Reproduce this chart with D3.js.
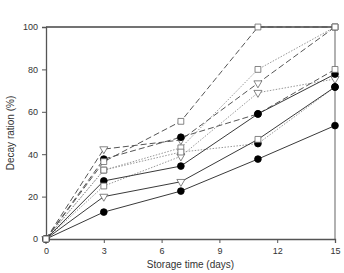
<!DOCTYPE html>
<html>
<head>
<meta charset="utf-8">
<script src="https://cdnjs.cloudflare.com/ajax/libs/d3/7.8.5/d3.min.js"></script>
<style>
  body { margin: 0; background: #fff; }
  text { font-family: "Liberation Sans", Arial, sans-serif; fill: #333; }
</style>
</head>
<body>
<script>
  // storage days on the x axis
  var days = [0, 3, 7, 11, 15];

  // decay ration (%) per treatment
  var seriesA = [0, 36.5, 55.5, 100, 100];
  var seriesB = [0, 42.4, 46.7, 73.5, 100];
  var seriesC = [0, 37.7, 48, 59, 80];
  var seriesD = [0, 32.5, 43, 80, 100];
  var seriesE = [0, 25, 39, 69, 75.5];
  var seriesF = [0, 27.4, 34.4, 59, 77.8];
  var seriesG = [0, 32.5, 41, 45, 71.7];
  var seriesH = [0, 20, 27, 47, 71.7];
  var seriesI = [0, 12.7, 22.6, 37.7, 53.5];

  var xTicks = [0, 3, 6, 9, 12, 15];
  var yTicks = [0, 20, 40, 60, 80, 100];

  // line style and marker shape per point (S square, T triangle, C circle)
  var series = [
    { values: seriesD, line: "dotted", marks: "SSSSS" },
    { values: seriesE, line: "dotted", marks: "SSTTT" },
    { values: seriesG, line: "dotted", marks: "SSSCC" },
    { values: seriesA, line: "dashed", marks: "SSSSS" },
    { values: seriesB, line: "dashed", marks: "TTTTS" },
    { values: seriesC, line: "dashed", marks: "CCCCS" },
    { values: seriesF, line: "solid",  marks: "CCCCC" },
    { values: seriesH, line: "solid",  marks: "TTTSC" },
    { values: seriesI, line: "solid",  marks: "CCCCC" }
  ];

  var width = 344, height = 273;
  var margin = { left: 46, right: 9, top: 27, bottom: 34 };

  var svg = d3.select("body").append("svg")
      .attr("width", width)
      .attr("height", height);

  var x = d3.scaleLinear().domain([0, 15]).range([margin.left, width - margin.right]);
  var y = d3.scaleLinear().domain([0, 100]).range([height - margin.bottom, margin.top]);

  // frame: top and right lines
  svg.append("line")
      .attr("x1", x(0)).attr("x2", x(15))
      .attr("y1", y(100)).attr("y2", y(100))
      .attr("stroke", "#444").attr("stroke-width", 1.3);
  svg.append("line")
      .attr("x1", x(15)).attr("x2", x(15))
      .attr("y1", y(100)).attr("y2", y(0))
      .attr("stroke", "#888").attr("stroke-width", 1.3);

  var xAxis = svg.append("g")
      .attr("transform", "translate(0," + y(0) + ")")
      .call(d3.axisBottom(x).tickValues(xTicks).tickSize(4).tickPadding(5));
  var yAxis = svg.append("g")
      .attr("transform", "translate(" + x(0) + ",0)")
      .call(d3.axisLeft(y).tickValues(yTicks).tickSize(4).tickPadding(4));

  [xAxis, yAxis].forEach(function(g) {
    g.select(".domain").attr("stroke", "#555").attr("stroke-width", 1.3);
    g.selectAll(".tick line").attr("stroke", "#555");
    g.selectAll(".tick text").style("font-size", "9px").attr("fill", "#333");
  });

  svg.append("text")
      .attr("x", (x(0) + x(15)) / 2)
      .attr("y", 268)
      .attr("text-anchor", "middle")
      .style("font-size", "10px")
      .text("Storage time (days)");

  svg.append("text")
      .attr("transform", "translate(14," + ((y(0) + y(100)) / 2) + ") rotate(-90)")
      .attr("text-anchor", "middle")
      .style("font-size", "10px")
      .text("Decay ration (%)");

  var lineGen = d3.line()
      .x(function(d, i) { return x(days[i]); })
      .y(function(d) { return y(d); });

  var lineStyles = {
    solid:  { stroke: "#3a3a3a", dash: null, w: 1 },
    dashed: { stroke: "#555", dash: "6,3", w: 1 },
    dotted: { stroke: "#999", dash: "1.5,1.5", w: 1 }
  };

  series.forEach(function(s) {
    var st = lineStyles[s.line];
    svg.append("path")
        .attr("d", lineGen(s.values))
        .attr("fill", "none")
        .attr("stroke", st.stroke)
        .attr("stroke-width", st.w)
        .attr("stroke-dasharray", st.dash);
  });

  var symbolType = { S: d3.symbolSquare, C: d3.symbolCircle, T: d3.symbolTriangle };
  var symbolSize = { S: 34, C: 36, T: 28 };

  // collect every marker, then draw triangles, circles, squares on top
  var marks = [];
  series.forEach(function(s) {
    s.values.forEach(function(v, i) {
      marks.push({ day: days[i], value: v, shape: s.marks[i] });
    });
  });
  var order = { T: 0, C: 1, S: 2 };
  marks.sort(function(a, b) { return order[a.shape] - order[b.shape]; });

  svg.selectAll(".mark")
      .data(marks)
      .enter().append("path")
      .attr("class", "mark")
      .attr("d", function(d) {
        return d3.symbol().type(symbolType[d.shape]).size(symbolSize[d.shape])();
      })
      .attr("transform", function(d) {
        var t = "translate(" + x(d.day) + "," + y(d.value) + ")";
        if (d.shape === "T") t += " rotate(180)";
        return t;
      })
      .attr("fill", function(d) { return d.shape === "C" ? "#000" : "#fff"; })
      .attr("stroke", function(d) { return d.shape === "C" ? "#000" : "#666"; })
      .attr("stroke-width", 0.8);
</script>
</body>
</html>
